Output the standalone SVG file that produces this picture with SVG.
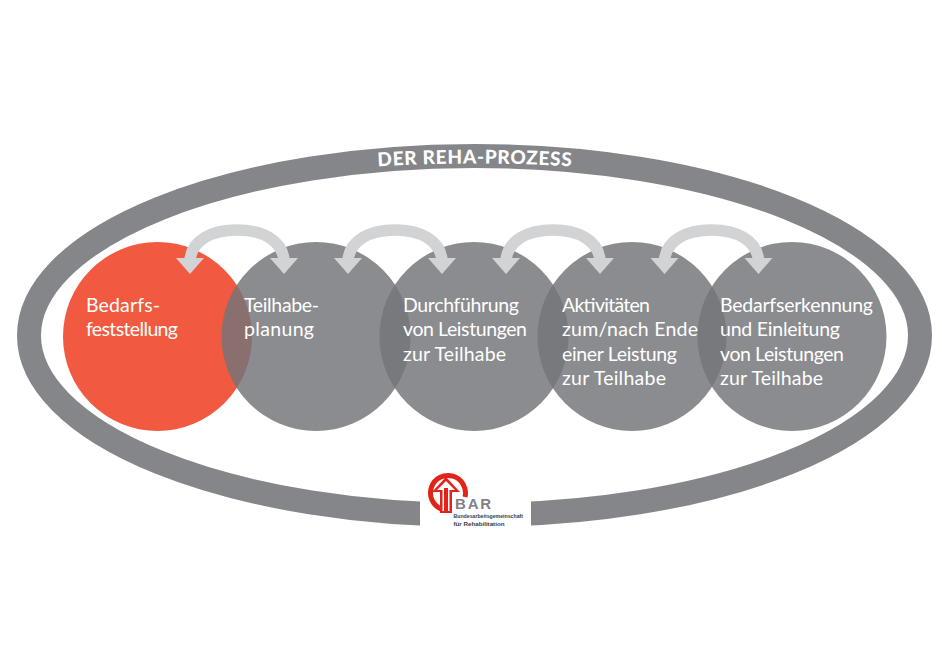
<svg xmlns="http://www.w3.org/2000/svg" xmlns:xlink="http://www.w3.org/1999/xlink" width="942" height="657" viewBox="0 0 942 657">
<style>
.c{fill:#747578;fill-opacity:.83}
.t{font-family:"Lato","Open Sans",sans-serif;font-size:19.5px;fill:#fff}
.a{fill:none;stroke:#d1d3d4;stroke-width:11.5}
.h{fill:#d1d3d4}
.l{font-family:"Liberation Sans",sans-serif;font-weight:700;fill:#3a3a3c}
</style>
<defs>
<g id="arrow"><path class="a" d="M190 260C192 240 212 230 237 230C262 230 282 240 284 260"/><path class="h" d="M176 258H204L190 274ZM270 258H298L284 274Z"/></g>
<path id="arc" d="M360 167.500Q474 159.500 590 167.500"/>
</defs>
<rect width="942" height="657" fill="#fff"/>
<g id="frame">
<ellipse cx="474.500" cy="335.500" rx="445.500" ry="179.500" fill="none" stroke="#858689" stroke-width="24"/>
<rect x="420" y="490" width="111" height="45" fill="#fff"/>
<text font-family="Lato,'Open Sans',sans-serif" font-weight="900" font-size="19" fill="#fff" letter-spacing=".7"><textPath xlink:href="#arc" startOffset="50%" text-anchor="middle">DER REHA-PROZESS</textPath></text>
</g>
<g id="node1"><circle cx="157.500" cy="336.500" r="94.500" fill="#f15a40"/></g>
<g id="node2"><circle class="c" cx="316" cy="336.500" r="94.500"/></g>
<g id="node3"><circle class="c" cx="474" cy="336.500" r="94.500"/></g>
<g id="node4"><circle class="c" cx="632" cy="336.500" r="94.500"/></g>
<g id="node5"><circle class="c" cx="792" cy="336.500" r="94.500"/></g>
<g id="connectors">
<use xlink:href="#arrow"/>
<use xlink:href="#arrow" x="158"/>
<use xlink:href="#arrow" x="316"/>
<use xlink:href="#arrow" x="474.500"/>
</g>
<g id="labels" class="t">
<text x="86" y="311.500" textLength="74">Bedarfs-</text><text x="86" y="336" textLength="92">feststellung</text>
<text x="244" y="311.500" textLength="75">Teilhabe-</text><text x="244" y="336" textLength="70">planung</text>
<text x="403" y="311.500" textLength="116">Durchführung</text><text x="403" y="336" textLength="124">von Leistungen</text><text x="403" y="360.500" textLength="103">zur Teilhabe</text>
<text x="562" y="311.500" textLength="88">Aktivitäten</text><text x="562" y="336" textLength="136">zum/nach Ende</text><text x="562" y="360.500" textLength="115">einer Leistung</text><text x="562" y="385" textLength="104">zur Teilhabe</text>
<text x="720" y="311.500" textLength="153">Bedarfserkennung</text><text x="720" y="336" textLength="120">und Einleitung</text><text x="720" y="360.500" textLength="124">von Leistungen</text><text x="720" y="385" textLength="103">zur Teilhabe</text>
</g>
<g id="logo">
<path d="M441 509A17.500 17.500 0 1 1 465 497" fill="none" stroke="#e2231a" stroke-width="5"/>
<path d="M446 477L432 492H440V513H452V492H460ZM446 481L455 490H449.500V511H448V488H444V511H442.500V490H437Z" fill="#e2231a" fill-rule="evenodd"/>
<text x="455" y="509" font-family="'Liberation Sans',sans-serif" font-weight="700" font-size="15" letter-spacing="1.800" fill="#808285">BAR</text>
<text class="l" x="453.500" y="517.500" font-size="6" textLength="69.500" lengthAdjust="spacingAndGlyphs">Bundesarbeitsgemeinschaft</text>
<text class="l" x="453.500" y="526" font-size="6" textLength="51" lengthAdjust="spacingAndGlyphs">für Rehabilitation</text>
</g>
</svg>
